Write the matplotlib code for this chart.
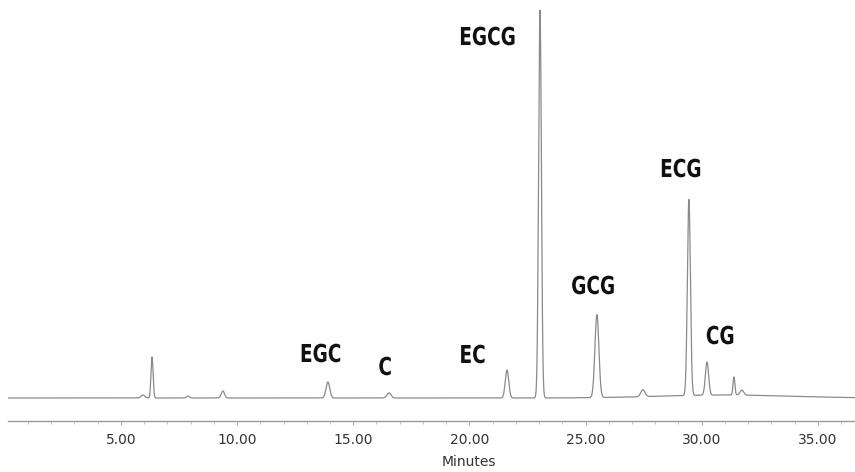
import numpy as np
import matplotlib.pyplot as plt
from matplotlib.ticker import MultipleLocator, FormatStrFormatter
from matplotlib.textpath import TextPath
from matplotlib.patches import PathPatch
from matplotlib.font_manager import FontProperties
from matplotlib.transforms import Affine2D, ScaledTranslation

# peak table (retention time in min, height, width sigma in min)
peak_times = [5.95, 6.34, 7.89, 9.39, 13.91, 16.54, 21.62, 23.04, 25.49, 27.47, 29.45, 30.23, 31.39, 31.73]
peak_heights = [3, 41, 2, 7, 16, 5, 28, 388, 83, 7, 196, 33, 18, 5]
peak_sigmas = [0.08, 0.045, 0.06, 0.07, 0.08, 0.09, 0.075, 0.06, 0.085, 0.09, 0.065, 0.07, 0.04, 0.08]

# slow baseline hump under the late peaks (center, height, sigma)
drift_center, drift_height, drift_sigma = 31.0, 3, 2.8

peak_names = ["EGC", "C", "EC", "EGCG", "GCG", "ECG", "CG"]
name_times = [13.91, 16.54, 21.62, 23.04, 25.49, 29.45, 30.23]

t = np.linspace(0, 36.6, 8000)
signal = drift_height * np.exp(-0.5 * ((t - drift_center) / drift_sigma) ** 2)
for tr, h, s in zip(peak_times, peak_heights, peak_sigmas):
    signal += h * np.exp(-0.5 * ((t - tr) / s) ** 2)

fig = plt.figure(figsize=(8.55, 4.72), dpi=100)
ax = fig.add_axes([8 / 855, 51 / 472, 847 / 855, 421 / 472])
ax.plot(t, signal, color="#8a8a8a", lw=0.9)

ax.set_xlim(0.14, 36.6)
ax.set_ylim(-23, 398)

for side in ["top", "right", "left"]:
    ax.spines[side].set_visible(False)
ax.spines["bottom"].set_color("#9a9a9a")
ax.spines["bottom"].set_linewidth(1.0)
ax.set_yticks([])

ax.xaxis.set_major_locator(MultipleLocator(5))
ax.xaxis.set_minor_locator(MultipleLocator(1))
ax.xaxis.set_major_formatter(FormatStrFormatter("%.2f"))
ax.tick_params(axis="x", which="major", length=3, color="#aaaaaa", pad=6,
               labelsize=10, labelcolor="#333333")
ax.tick_params(axis="x", which="minor", length=2.5, color="#bbbbbb")

# label placement (layout, offsets in data units from the peak)
label_offsets = {
    "EGC": (-0.3, 45),
    "C": (-0.17, 32),
    "EC": (-1.47, 44),
    "EGCG": (-2.25, 362),
    "GCG": (-0.17, 113),
    "ECG": (-0.34, 230),
    "CG": (0.56, 63),
}
# condensed bold lettering: squeeze a bold text path horizontally
bold = FontProperties(family="DejaVu Sans", weight="bold")
em_px = 24.7
squeeze = 0.75
for name, tr in zip(peak_names, name_times):
    dx, y = label_offsets[name]
    path = TextPath((0, 0), name, size=1, prop=bold)
    ext = path.get_extents()
    cx = (ext.x0 + ext.x1) / 2
    cy = (ext.y0 + ext.y1) / 2
    trans = (Affine2D().translate(-cx, -cy).scale(em_px * squeeze, em_px)
             + ScaledTranslation(tr + dx, y, ax.transData))
    ax.add_patch(PathPatch(path, transform=trans, facecolor="#111111",
                           edgecolor="none", clip_on=False))

fig.text(469 / 855, 10 / 472, "Minutes", ha="center", va="center",
         fontsize=10, color="#333333")

fig.savefig("out.png", dpi=100)
